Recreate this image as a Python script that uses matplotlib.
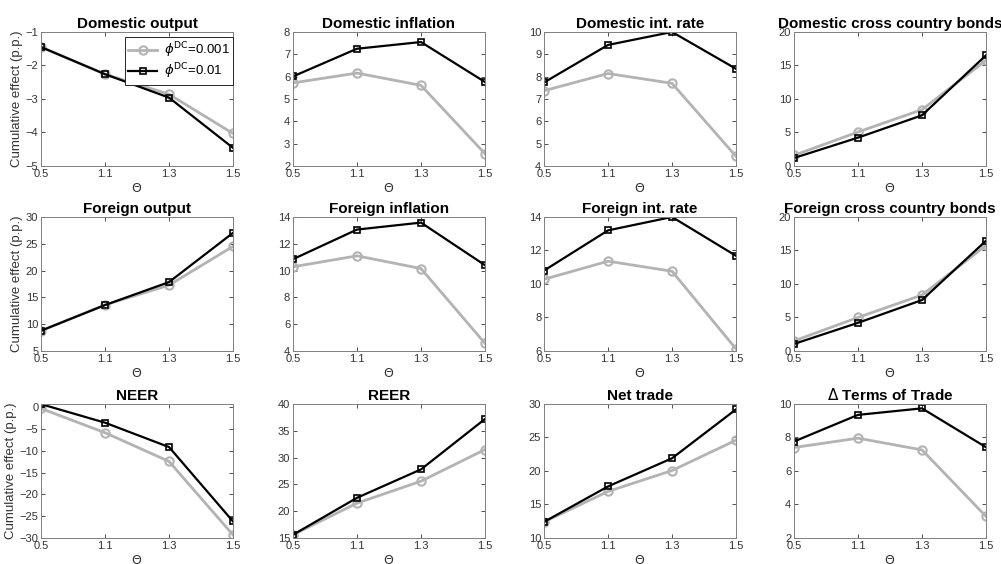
import numpy as np
import matplotlib.pyplot as plt

plt.rcParams['font.family'] = ['Liberation Sans', 'DejaVu Sans']

theta_labels = ['0.5', '1.1', '1.3', '1.5']

titles = ['Domestic output', 'Domestic inflation', 'Domestic int. rate',
          'Domestic cross country bonds',
          'Foreign output', 'Foreign inflation', 'Foreign int. rate',
          'Foreign cross country bonds',
          'NEER', 'REER', 'Net trade', r'$\Delta$ Terms of Trade']

# phi^DC = 0.001 (gray)
low_phi = [
    [-1.45, -2.26, -2.86, -4.03],
    [5.72, 6.16, 5.61, 2.55],
    [7.37, 8.14, 7.70, 4.43],
    [1.59, 5.07, 8.41, 15.77],
    [8.78, 13.6, 17.28, 24.52],
    [10.28, 11.10, 10.15, 4.57],
    [10.28, 11.36, 10.76, 6.12],
    [1.5, 5.0, 8.35, 15.75],
    [-0.23, -5.8, -12.4, -29.3],
    [15.6, 21.5, 25.6, 31.5],
    [12.4, 16.95, 20.07, 24.6],
    [7.4, 7.96, 7.26, 3.29],
]

# phi^DC = 0.01 (black)
high_phi = [
    [-1.45, -2.26, -2.96, -4.46],
    [6.01, 7.25, 7.55, 5.76],
    [7.74, 9.42, 10.0, 8.35],
    [1.19, 4.23, 7.56, 16.52],
    [8.78, 13.57, 17.85, 27.04],
    [10.85, 13.06, 13.58, 10.40],
    [10.8, 13.2, 14.0, 11.68],
    [1.05, 4.2, 7.6, 16.45],
    [0.77, -3.5, -9.1, -26.2],
    [15.6, 22.5, 27.8, 37.2],
    [12.4, 17.7, 21.9, 29.2],
    [7.76, 9.35, 9.74, 7.42],
]

ylims = [(-5, -1), (2, 8), (4, 10), (0, 20),
         (5, 30), (4, 14), (6, 14), (0, 20),
         (-30, 0.8), (15, 40), (10, 30), (2, 10)]

yticks = [np.arange(-5, -0.5, 1), np.arange(2, 9, 1), np.arange(4, 11, 1), np.arange(0, 21, 5),
          np.arange(5, 31, 5), np.arange(4, 15, 2), np.arange(6, 15, 2), np.arange(0, 21, 5),
          np.arange(-30, 1, 5), np.arange(15, 41, 5), np.arange(10, 31, 5), np.arange(2, 11, 2)]

fig = plt.figure(figsize=(10.01, 5.64), dpi=100)

lefts = [0.041, 0.2927, 0.5435, 0.7932]
bottoms = [0.7057, 0.3777, 0.0461]
w, h = 0.1918, 0.2376

axcol = '#333333'
x = np.arange(1, 5)

for i in range(12):
    r, c = divmod(i, 4)
    ax = fig.add_axes([lefts[c], bottoms[r], w, h])
    ax.plot(x, low_phi[i], color='#b3b3b3', lw=2, marker='o', ms=6,
            mfc='none', mew=1.5, label=r'$\phi^{\mathrm{DC}}$=0.001')
    ax.plot(x, high_phi[i], color='black', lw=1.6, marker='s', ms=5,
            mfc='none', mew=1.2, label=r'$\phi^{\mathrm{DC}}$=0.01')
    ax.set_xlim(1, 4)
    ax.set_ylim(*ylims[i])
    ax.set_xticks(x)
    ax.set_xticklabels(theta_labels)
    ax.set_yticks(yticks[i])
    ax.tick_params(direction='in', top=True, right=True, labelsize=8,
                   colors=axcol, length=3, width=0.6)
    ax.tick_params(axis='y', pad=2)
    ax.tick_params(axis='x', pad=2.5)
    for s in ax.spines.values():
        s.set_color('#808080')
        s.set_linewidth(0.7)
    ax.set_title(titles[i], fontsize=11, fontweight='bold', pad=3)
    ax.set_xlabel(r'$\Theta$', fontsize=9, color=axcol, labelpad=2)
    if c == 0:
        ax.set_ylabel('Cumulative effect (p.p.)', fontsize=9.5, color=axcol, labelpad=2)
    if i == 0:
        leg = ax.legend(loc='upper right', fontsize=9.5, handlelength=2.2,
                        fancybox=False, framealpha=1, borderpad=0.25,
                        labelspacing=0.15, handletextpad=0.5, borderaxespad=0,
                        bbox_to_anchor=(1.0, 0.963))
        leg.get_frame().set_edgecolor('#262626')
        leg.get_frame().set_linewidth(0.7)

fig.savefig('out.png', dpi=100)
